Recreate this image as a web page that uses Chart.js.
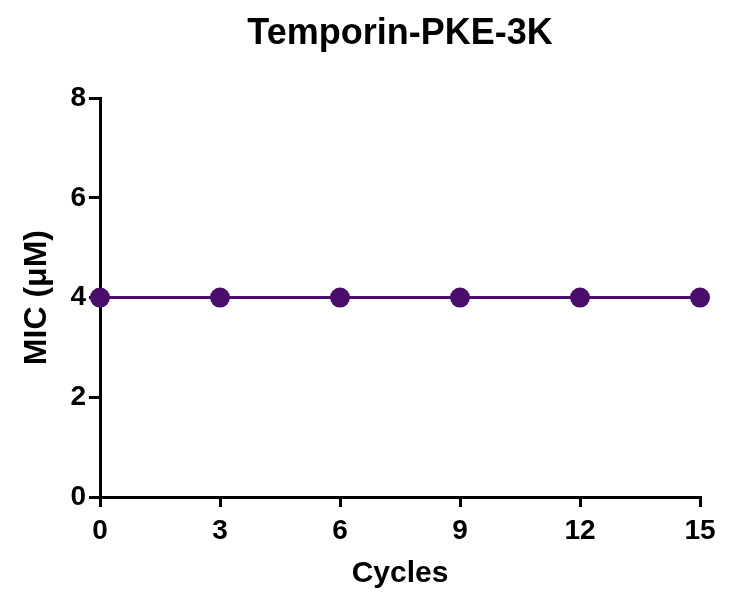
<!DOCTYPE html>
<html>
<head>
<meta charset="utf-8">
<title>Temporin-PKE-3K</title>
<script src="https://cdn.jsdelivr.net/npm/chart.js@4/dist/chart.umd.min.js"></script>
<style>
  html, body { margin: 0; padding: 0; background: #fff; }
  #wrap { width: 733px; height: 606px; }
</style>
</head>
<body>
<div id="wrap"><canvas id="chart" width="733" height="606"></canvas></div>
<script>
// Data
const cycles = [0, 3, 6, 9, 12, 15];
const micValues = [4, 4, 4, 4, 4, 4];

const chartTitle = 'Temporin-PKE-3K';
const xTitle = 'Cycles';
const yTitle = 'MIC (\u03bcM)';

const purple = '#4a0d6b';
const fontFamily = "'Liberation Sans', Arial, sans-serif";

// center the title over the plot area instead of the whole canvas
const centerTitleOnPlot = {
  id: 'centerTitleOnPlot',
  afterLayout(chart) {
    const t = chart.titleBlock;
    if (!t) return;
    t.left = chart.chartArea.left;
    t.right = chart.chartArea.right;
  }
};

const ctx = document.getElementById('chart');

new Chart(ctx, {
  type: 'line',
  data: {
    datasets: [{
      label: chartTitle,
      data: cycles.map((c, i) => ({ x: c, y: micValues[i] })),
      borderColor: purple,
      backgroundColor: purple,
      pointBackgroundColor: purple,
      pointBorderColor: purple,
      borderWidth: 3,
      pointRadius: 8.5,
      pointHoverRadius: 8.5,
      tension: 0,
      fill: false,
      clip: false
    }]
  },
  options: {
    responsive: false,
    animation: false,
    devicePixelRatio: 1,
    layout: { padding: { top: 0, left: 0, right: 33, bottom: 0 } },
    plugins: {
      legend: { display: false },
      tooltip: { enabled: false },
      title: {
        display: true,
        text: chartTitle,
        color: '#000',
        font: { family: fontFamily, size: 36, weight: 'bold' },
        padding: { top: 12, bottom: 43 }
      }
    },
    scales: {
      x: {
        type: 'linear',
        min: 0,
        max: 15,
        afterFit: (scale) => { scale.height = 109; },
        border: { display: true, color: '#000', width: 3 },
        grid: { drawOnChartArea: false, drawTicks: true, tickLength: 10, lineWidth: 3, color: '#000' },
        ticks: {
          stepSize: 3,
          color: '#000',
          padding: 7,
          font: { family: fontFamily, size: 28, weight: 'bold' }
        },
        title: {
          display: true,
          text: xTitle,
          color: '#000',
          font: { family: fontFamily, size: 30, weight: 'bold' },
          padding: { top: 0, bottom: 14 }
        }
      },
      y: {
        min: 0,
        max: 8,
        afterFit: (scale) => { scale.width = 100; },
        border: { display: true, color: '#000', width: 3 },
        grid: { drawOnChartArea: false, drawTicks: true, tickLength: 11, lineWidth: 3, color: '#000' },
        ticks: {
          stepSize: 2,
          color: '#000',
          padding: 3,
          font: { family: fontFamily, size: 28, weight: 'bold' }
        },
        title: {
          display: true,
          text: yTitle,
          color: '#000',
          font: { family: fontFamily, size: 32, weight: 'bold' },
          padding: { top: 18, bottom: 0 }
        }
      }
    }
  },
  plugins: [centerTitleOnPlot]
});
</script>
</body>
</html>
